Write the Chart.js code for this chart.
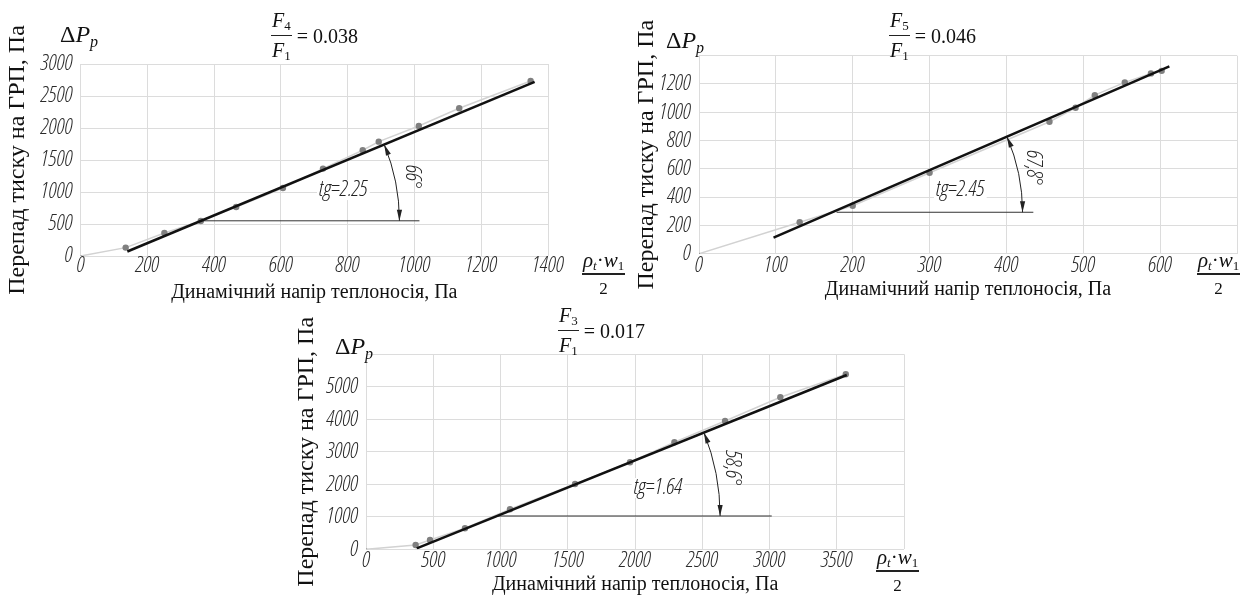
<!DOCTYPE html>
<html>
<head>
<meta charset="utf-8">
<script src="https://cdn.jsdelivr.net/npm/chart.js@4.4.1/dist/chart.umd.min.js"></script>
<style>
  body { margin: 0; background: #fff; width: 1245px; height: 601px; position: relative; overflow: hidden; }
  canvas { position: absolute; }
  .lbl { position: absolute; font-family: 'Liberation Serif', 'Times New Roman', serif; color: #111; line-height: 1; white-space: nowrap; }
  .dp { font-size: 24px; }
  .dp sub { font-size: 16px; vertical-align: -5px; }
  .ttl { font-size: 20px; display: flex; align-items: center; }
  .rho { font-size: 21px; display: flex; align-items: center; }
  .fr { display: inline-flex; flex-direction: column; align-items: center; }
  .nu { border-bottom: 1px solid #222; padding: 0 1px 3px; }
  .de { padding-top: 4px; }
  .ttl sub, .rho sub { font-size: 13px; vertical-align: -3px; }
  .rho .nu { border-bottom: 2px solid #222; padding: 0 1px 1px; }
  .rho .de { padding-top: 5px; font-size: 17px; }
</style>
</head>
<body>
<canvas id="c1" width="590" height="310" style="left:0;top:0"></canvas>
<canvas id="c2" width="645" height="310" style="left:600px;top:0"></canvas>
<canvas id="c3" width="680" height="301" style="left:270px;top:300px"></canvas>

<div class="lbl dp" style="left:60px;top:22px">Δ<i>P</i><sub><i>p</i></sub></div>
<div class="lbl dp" style="left:666px;top:28px">Δ<i>P</i><sub><i>p</i></sub></div>
<div class="lbl dp" style="left:335px;top:334px">Δ<i>P</i><sub><i>p</i></sub></div>

<div class="lbl ttl" style="left:271px;top:10px"><span class="fr"><span class="nu"><i>F</i><sub>4</sub></span><span class="de"><i>F</i><sub>1</sub></span></span>&nbsp;= 0.038</div>
<div class="lbl ttl" style="left:889px;top:10px"><span class="fr"><span class="nu"><i>F</i><sub>5</sub></span><span class="de"><i>F</i><sub>1</sub></span></span>&nbsp;= 0.046</div>
<div class="lbl ttl" style="left:558px;top:305px"><span class="fr"><span class="nu"><i>F</i><sub>3</sub></span><span class="de"><i>F</i><sub>1</sub></span></span>&nbsp;= 0.017</div>

<div class="lbl rho" style="left:582px;top:250px"><span class="fr"><span class="nu"><i>ρ</i><sub><i>t</i></sub>·<i>w</i><sub>1</sub></span><span class="de">2</span></span></div>
<div class="lbl rho" style="left:1197px;top:250px"><span class="fr"><span class="nu"><i>ρ</i><sub><i>t</i></sub>·<i>w</i><sub>1</sub></span><span class="de">2</span></span></div>
<div class="lbl rho" style="left:876px;top:547px"><span class="fr"><span class="nu"><i>ρ</i><sub><i>t</i></sub>·<i>w</i><sub>1</sub></span><span class="de">2</span></span></div>

<script>
// --- графік 1: F4/F1 = 0.038
const q1 = [0, 135, 251, 360, 466, 606, 726, 845, 893, 1013, 1134, 1348];
const dp1 = [0, 131, 360, 547, 766, 1063, 1366, 1652, 1787, 2031, 2308, 2734];
const fitQ1 = [140, 1360];
const fitDp1 = [70, 2720];
const baseQ1 = [360, 1015];
const baseDp1 = 550;
const xTicks1 = [0, 200, 400, 600, 800, 1000, 1200, 1400];
const xLabels1 = ['0', '200', '400', '600', '800', '1000', '1200', '1400'];
const yTicks1 = [0, 500, 1000, 1500, 2000, 2500, 3000];
const yLabels1 = ['0', '500', '1000', '1500', '2000', '2500', '3000'];

// --- графік 2: F5/F1 = 0.046
const q2 = [0, 131, 200, 300, 456, 490, 515, 554, 588, 602];
const dp2 = [0, 222, 339, 572, 933, 1032, 1121, 1211, 1275, 1293];
const fitQ2 = [97, 612];
const fitDp2 = [113, 1324];
const baseQ2 = [179, 435];
const baseDp2 = 293;
const xTicks2 = [0, 100, 200, 300, 400, 500, 600, 700];
const xLabels2 = ['0', '100', '200', '300', '400', '500', '600', ''];
const yTicks2 = [0, 200, 400, 600, 800, 1000, 1200, 1400];
const yLabels2 = ['0', '200', '400', '600', '800', '1000', '1200', ''];

// --- графік 3: F3/F1 = 0.017
const q3 = [0, 367, 474, 734, 1069, 1553, 1962, 2292, 2669, 3080, 3567];
const dp3 = [0, 132, 286, 646, 1231, 2009, 2677, 3292, 3948, 4677, 5385];
const fitQ3 = [375, 3574];
const fitDp3 = [31, 5363];
const baseQ3 = [970, 3016];
const baseDp3 = 1025;
const xTicks3 = [0, 500, 1000, 1500, 2000, 2500, 3000, 3500, 4000];
const xLabels3 = ['0', '500', '1000', '1500', '2000', '2500', '3000', '3500', ''];
const yTicks3 = [0, 1000, 2000, 3000, 4000, 5000, 6000];
const yLabels3 = ['0', '1000', '2000', '3000', '4000', '5000', ''];

// підписи кута
const tgText = ['tg=2.25', 'tg=2.45', 'tg=1.64'];
const angText = ['66°', '67,8°', '58,6°'];

const serif = "'Liberation Serif', 'Times New Roman', serif";

// шукаємо найвужчий доступний шрифт для цифр
function pickNumFont() {
  const c = document.createElement('canvas').getContext('2d');
  const cands = [
    {family: "'Liberation Sans Narrow', 'DejaVu Sans'", weight: 'normal'},
    {family: "'Noto Sans', 'DejaVu Sans'", weight: '300 semi-condensed'},
    {family: "'Open Sans', 'DejaVu Sans'", weight: '300 semi-condensed'},
    {family: "'Roboto', 'DejaVu Sans'", weight: '300 semi-condensed'},
    {family: "'DejaVu Sans'", weight: 'semi-condensed'},
    {family: "'Roboto', 'DejaVu Sans'", weight: '300'}
  ];
  let best = cands[cands.length - 1], bw = Infinity;
  cands.forEach(f => {
    c.font = 'italic ' + f.weight + ' 22px ' + f.family;
    const w = c.measureText('3000').width;
    if (w < bw - 0.5) { bw = w; best = f; }
  });
  return best;
}
const numFont = pickNumFont();

function arrowHead(ctx, x, y, dir) {
  const L = 11, W = 2.6;
  ctx.beginPath();
  ctx.moveTo(x, y);
  ctx.lineTo(x - L * Math.cos(dir) - W * Math.sin(dir), y - L * Math.sin(dir) + W * Math.cos(dir));
  ctx.lineTo(x - L * Math.cos(dir) + W * Math.sin(dir), y - L * Math.sin(dir) - W * Math.cos(dir));
  ctx.closePath();
  ctx.fill();
}

// дуга кута, стрілки та підписи
const angleMark = {
  id: 'angleMark',
  afterDatasetsDraw(chart, args, o) {
    const {ctx, scales: {x, y}} = chart;
    const k = (o.fitY[1] - o.fitY[0]) / (o.fitX[1] - o.fitX[0]);
    const cxv = o.fitX[0] + (o.baseY - o.fitY[0]) / k;
    const cx = x.getPixelForValue(cxv), cy = y.getPixelForValue(o.baseY);
    const ex = x.getPixelForValue(o.fitX[1]), ey = y.getPixelForValue(o.fitY[1]);
    const th = Math.atan2(ey - cy, ex - cx);
    const r = x.getPixelForValue(o.arcX) - cx;
    ctx.save();
    ctx.strokeStyle = '#222';
    ctx.fillStyle = '#222';
    ctx.lineWidth = 1;
    ctx.beginPath();
    ctx.arc(cx, cy, r, th, 0);
    ctx.stroke();
    arrowHead(ctx, cx + r, cy, Math.PI / 2);
    arrowHead(ctx, cx + r * Math.cos(th), cy + r * Math.sin(th), th - Math.PI / 2);

    ctx.font = 'italic ' + numFont.weight + ' 22px ' + numFont.family;
    ctx.textAlign = 'center';
    ctx.textBaseline = 'middle';
    const px = x.getPixelForValue(o.tgX), py = y.getPixelForValue(o.tgY);
    const w = ctx.measureText(o.tg).width;
    ctx.fillStyle = '#fff';
    ctx.fillRect(px - w / 2 - 2, py - 10, w + 4, 20);
    ctx.fillStyle = '#222';
    ctx.fillText(o.tg, px, py);

    ctx.translate(x.getPixelForValue(o.angX), y.getPixelForValue(o.angY));
    ctx.rotate(Math.PI / 2);
    ctx.fillText(o.ang, 0, 0);
    ctx.restore();
  }
};

function makeChart(id, d) {
  const pts = d.q.map((v, i) => ({x: v, y: d.dp[i]}));
  const tickFont = {family: numFont.family, style: 'italic', weight: numFont.weight, size: 22, lineHeight: 0.8};
  return new Chart(document.getElementById(id), {
    type: 'scatter',
    data: {
      datasets: [
        {
          data: d.fitQ.map((v, i) => ({x: v, y: d.fitDp[i]})),
          showLine: true, borderColor: '#111', borderWidth: 2.5, pointRadius: 0
        },
        {
          data: d.baseQ.map(v => ({x: v, y: d.baseDp})),
          showLine: true, borderColor: '#333', borderWidth: 1, pointRadius: 0
        },
        {
          data: pts,
          showLine: true, borderColor: '#d2d2d2', borderWidth: 1.5,
          pointRadius: pts.map((p, i) => i === 0 ? 1 : 3.2),
          pointBackgroundColor: '#808080', pointBorderWidth: 0
        }
      ]
    },
    options: {
      responsive: false,
      animation: false,
      layout: {padding: d.pad},
      plugins: {
        legend: {display: false},
        tooltip: {enabled: false},
        angleMark: d.mark
      },
      scales: {
        x: {
          type: 'linear',
          min: d.xTicks[0], max: d.xTicks[d.xTicks.length - 1],
          afterBuildTicks: s => { s.ticks = d.xTicks.map(v => ({value: v})); },
          afterFit: s => { s.height = d.xH; },
          grid: {color: '#dcdcdc', lineWidth: 1, drawTicks: false},
          border: {display: false},
          ticks: {
            autoSkip: false, maxRotation: 0, padding: d.xPad,
            color: '#2a2a2a', font: tickFont,
            callback: (v, i) => d.xLabels[i]
          },
          title: {
            display: true, text: 'Динамічний напір теплоносія, Па', color: '#111',
            font: {family: serif, size: 20, lineHeight: 1},
            padding: {top: 0, bottom: d.xtPad}
          }
        },
        y: {
          type: 'linear',
          min: d.yTicks[0], max: d.yTicks[d.yTicks.length - 1],
          afterBuildTicks: s => { s.ticks = d.yTicks.map(v => ({value: v})); },
          afterFit: s => { s.width = d.yW; },
          grid: {color: '#dcdcdc', lineWidth: 1, drawTicks: false},
          border: {display: false},
          ticks: {
            padding: 8, color: '#2a2a2a', font: tickFont,
            callback: (v, i) => d.yLabels[i]
          },
          title: {
            display: true, text: 'Перепад тиску на ГРП, Па', color: '#111',
            font: {family: serif, size: 24, lineHeight: 1},
            padding: {top: d.ytPad, bottom: 0}
          }
        }
      }
    },
    plugins: [angleMark]
  });
}

makeChart('c1', {
  q: q1, dp: dp1, fitQ: fitQ1, fitDp: fitDp1, baseQ: baseQ1, baseDp: baseDp1,
  xTicks: xTicks1, xLabels: xLabels1, yTicks: yTicks1, yLabels: yLabels1,
  pad: {left: 0, top: 64, right: 42, bottom: 0}, xH: 54, yW: 80.6, xPad: 1, xtPad: 7, ytPad: 6,
  mark: {fitX: fitQ1, fitY: fitDp1, baseY: baseDp1, arcX: 955,
         tg: tgText[0], tgX: 787, tgY: 1030, ang: angText[0], angX: 993, angY: 1234}
});

makeChart('c2', {
  q: q2, dp: dp2, fitQ: fitQ2, fitDp: fitDp2, baseQ: baseQ2, baseDp: baseDp2,
  xTicks: xTicks2, xLabels: xLabels2, yTicks: yTicks2, yLabels: yLabels2,
  pad: {left: 0, top: 55.7, right: 8, bottom: 0}, xH: 56.3, yW: 99, xPad: 3, xtPad: 10, ytPad: 35,
  mark: {fitX: fitQ2, fitY: fitDp2, baseY: baseDp2, arcX: 421,
         tg: tgText[1], tgX: 340, tgY: 450, ang: angText[1], angX: 435, angY: 606}
});

makeChart('c3', {
  q: q3, dp: dp3, fitQ: fitQ3, fitDp: fitDp3, baseQ: baseQ3, baseDp: baseDp3,
  xTicks: xTicks3, xLabels: xLabels3, yTicks: yTicks3, yLabels: yLabels3,
  pad: {left: 0, top: 54.3, right: 46, bottom: 0}, xH: 51.7, yW: 96.3, xPad: 3, xtPad: 6, ytPad: 25,
  mark: {fitX: fitQ3, fitY: fitDp3, baseY: baseDp3, arcX: 2632,
         tg: tgText[2], tgX: 2170, tgY: 1886, ang: angText[2], angX: 2719, angY: 2492}
});
</script>
</body>
</html>
